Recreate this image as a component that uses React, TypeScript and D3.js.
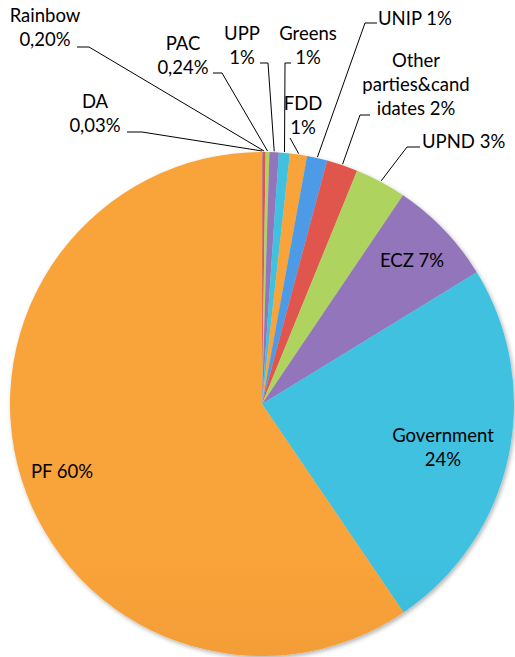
import React from "react";
import * as d3 from "d3";

// Data (clockwise from 12 o'clock)
const parties = ["DA", "Rainbow", "PAC", "UPP", "Greens", "FDD", "UNIP", "Other parties&candidates", "UPND", "ECZ", "Government", "PF"];
const shares = [0.03, 0.2, 0.24, 0.6, 0.7, 1.1, 1.3, 2.0, 3.3, 6.8, 24.3, 59.6];
const labelLines = [
  ["DA", "0,03%"],
  ["Rainbow", "0,20%"],
  ["PAC", "0,24%"],
  ["UPP", "1%"],
  ["Greens", "1%"],
  ["FDD", "1%"],
  ["UNIP 1%"],
  ["Other", "parties&cand", "idates 2%"],
  ["UPND 3%"],
  ["ECZ 7%"],
  ["Government", "24%"],
  ["PF 60%"],
];

// Office-style palette, light (top) and dark (bottom) stops
const palette = [
  ["#4e9be6", "#3f83c6"],
  ["#e0574e", "#c6463e"],
  ["#afd35e", "#96b84c"],
  ["#9275ba", "#7c61a2"],
  ["#3fc1e0", "#2e9db4"],
  ["#f9a33a", "#e0872b"],
];

const width = 515;
const height = 657;
const cx = 262;
const cy = 404;
const radius = 252;
const lineH = 24;

// label layout: text anchor point (first baseline), alignment, leader line start
type Lay = { x: number; y: number; anchor: string; lead?: [number, number][] };
const layout: Lay[] = [
  { x: 95, y: 108, anchor: "middle", lead: [[127, 132], [142, 132]] },
  { x: 45, y: 22, anchor: "middle", lead: [[77, 47], [89, 47]] },
  { x: 183, y: 50, anchor: "middle", lead: [[213, 73], [222, 73]] },
  { x: 242, y: 40, anchor: "middle", lead: [[260, 63], [268, 63]] },
  { x: 308, y: 40, anchor: "middle", lead: [[291, 63], [285, 63]] },
  { x: 303, y: 110, anchor: "middle", lead: [[290, 138]] },
  { x: 378, y: 25, anchor: "start", lead: [[377, 23], [365, 23]] },
  { x: 416, y: 67, anchor: "middle", lead: [[370, 115], [360, 115]] },
  { x: 422, y: 148, anchor: "start", lead: [[420, 147], [407, 147]] },
  { x: 412, y: 267, anchor: "middle" },
  { x: 443, y: 442, anchor: "middle" },
  { x: 62, y: 478, anchor: "middle" },
];

const App = () => {
  const pie = d3
    .pie<number>()
    .sort(null)
    .value((d) => d)
    .startAngle(0)
    .endAngle(2 * Math.PI);
  const arcs = pie(shares);
  const arc = d3.arc<d3.PieArcDatum<number>>().innerRadius(0).outerRadius(radius);
  const edge = d3.arc<d3.PieArcDatum<number>>().innerRadius(radius + 1).outerRadius(radius + 1);

  return (
    <svg
      width={width}
      height={height}
      style={{ position: "absolute", left: 0, top: 0, background: "#fff" }}
      fontFamily="Lato, 'Open Sans', sans-serif"
      fontSize={18.5}
    >
      <defs>
        {palette.map((c, i) => (
          <linearGradient
            key={i}
            id={`g${i}`}
            gradientUnits="userSpaceOnUse"
            x1={0}
            y1={cy - radius}
            x2={0}
            y2={cy + radius}
          >
            <stop offset="0" stopColor={c[0]} />
            <stop offset="1" stopColor={c[1]} />
          </linearGradient>
        ))}
        <filter id="shadow" x="-10%" y="-10%" width="120%" height="120%">
          <feDropShadow dx="1.5" dy="2" stdDeviation="2" floodColor="#000" floodOpacity="0.3" />
        </filter>
      </defs>
      <g transform={`translate(${cx},${cy})`} filter="url(#shadow)">
        {arcs.map((a, i) => (
          <path key={parties[i]} d={arc(a) || ""} fill={`url(#g${i % palette.length})`} />
        ))}
      </g>
      <g fill="none" stroke="#000" strokeWidth={1}>
        {arcs.map((a, i) => {
          const lay = layout[i];
          if (!lay.lead) return null;
          const [ex, ey] = edge.centroid(a);
          const pts = [...lay.lead, [cx + ex, cy + ey]];
          return <polyline key={i} points={pts.map((p) => p.join(",")).join(" ")} />;
        })}
      </g>
      <g fill="#000">
        {labelLines.map((lines, i) => (
          <text key={i} x={layout[i].x} y={layout[i].y} textAnchor={layout[i].anchor}>
            {lines.map((t, j) => (
              <tspan key={j} x={layout[i].x} dy={j === 0 ? 0 : lineH}>
                {t}
              </tspan>
            ))}
          </text>
        ))}
      </g>
    </svg>
  );
};

export default App;
